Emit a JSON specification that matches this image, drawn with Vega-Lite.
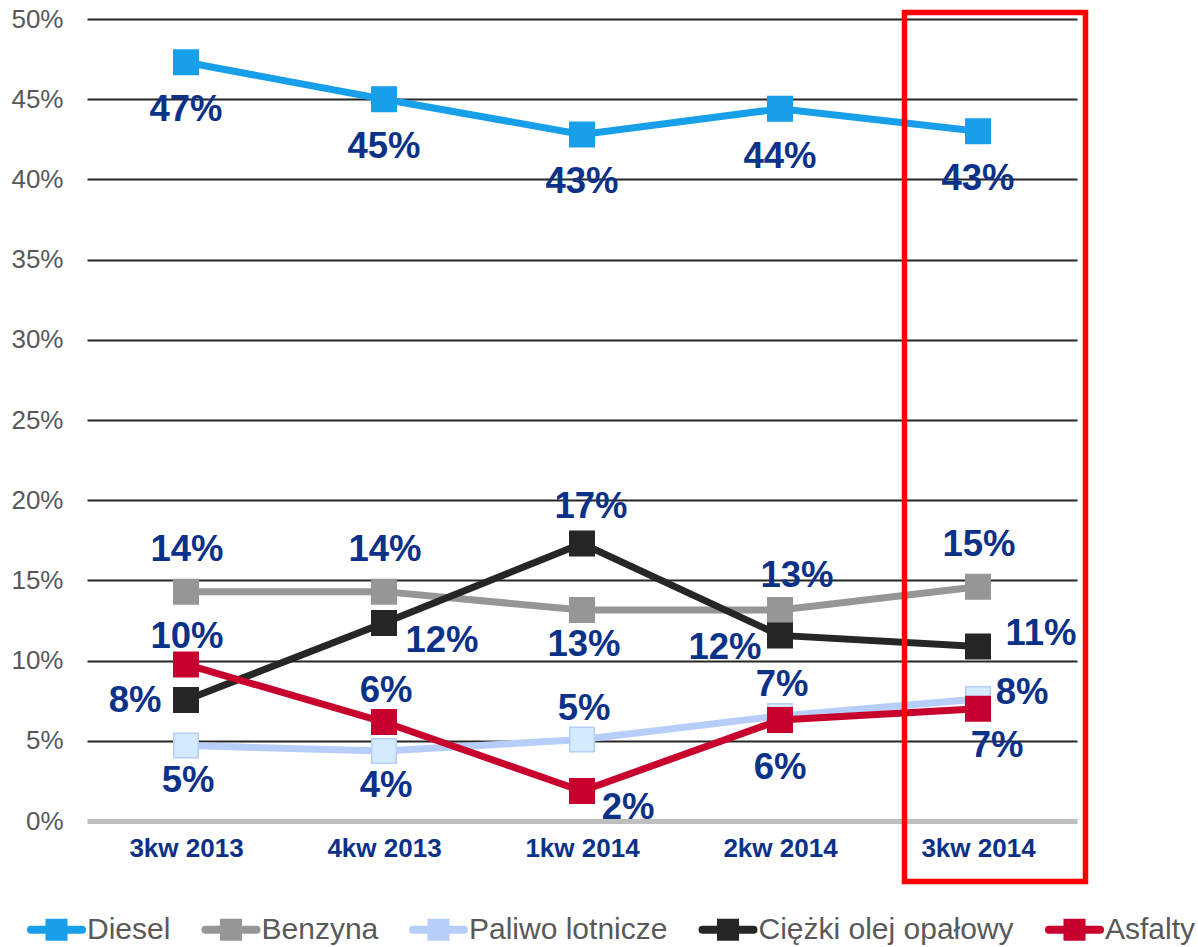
{
  "$schema": "https://vega.github.io/schema/vega-lite/v6.json",
  "width": 990,
  "height": 802,
  "autosize": "none",
  "padding": {"left": 87, "top": 19, "right": 121, "bottom": 126},
  "background": "white",
  "config": {"view": {"stroke": null}, "font": "Liberation Sans"},
  "data": {"values": [
    {"q": "3kw 2013", "s": "Diesel", "v": 0.473},
    {"q": "4kw 2013", "s": "Diesel", "v": 0.450},
    {"q": "1kw 2014", "s": "Diesel", "v": 0.428},
    {"q": "2kw 2014", "s": "Diesel", "v": 0.444},
    {"q": "3kw 2014", "s": "Diesel", "v": 0.430},
    {"q": "3kw 2013", "s": "Benzyna", "v": 0.143},
    {"q": "4kw 2013", "s": "Benzyna", "v": 0.143},
    {"q": "1kw 2014", "s": "Benzyna", "v": 0.1315},
    {"q": "2kw 2014", "s": "Benzyna", "v": 0.1315},
    {"q": "3kw 2014", "s": "Benzyna", "v": 0.146},
    {"q": "3kw 2013", "s": "Paliwo lotnicze", "v": 0.047},
    {"q": "4kw 2013", "s": "Paliwo lotnicze", "v": 0.0436},
    {"q": "1kw 2014", "s": "Paliwo lotnicze", "v": 0.0508},
    {"q": "2kw 2014", "s": "Paliwo lotnicze", "v": 0.0655},
    {"q": "3kw 2014", "s": "Paliwo lotnicze", "v": 0.076},
    {"q": "3kw 2013", "s": "Ciężki olej opałowy", "v": 0.0755},
    {"q": "4kw 2013", "s": "Ciężki olej opałowy", "v": 0.1234},
    {"q": "1kw 2014", "s": "Ciężki olej opałowy", "v": 0.173},
    {"q": "2kw 2014", "s": "Ciężki olej opałowy", "v": 0.1157},
    {"q": "3kw 2014", "s": "Ciężki olej opałowy", "v": 0.1088},
    {"q": "3kw 2013", "s": "Asfalty", "v": 0.0976},
    {"q": "4kw 2013", "s": "Asfalty", "v": 0.0617},
    {"q": "1kw 2014", "s": "Asfalty", "v": 0.0187},
    {"q": "2kw 2014", "s": "Asfalty", "v": 0.063},
    {"q": "3kw 2014", "s": "Asfalty", "v": 0.070}
  ]},
  "encoding": {
    "x": {
      "field": "q", "type": "nominal",
      "sort": ["3kw 2013", "4kw 2013", "1kw 2014", "2kw 2014", "3kw 2014"],
      "scale": {"type": "point", "padding": 0.5},
      "axis": {"title": null, "labelAngle": 0, "labelFont": "Liberation Sans", "labelFontWeight": "bold", "labelFontSize": 26, "labelColor": "#0B3189", "ticks": false, "domain": false, "grid": false, "labelPadding": 14}
    },
    "y": {
      "field": "v", "type": "quantitative",
      "scale": {"domain": [0, 0.5], "nice": false, "zero": true},
      "axis": {
        "title": null,
        "values": [0, 0.05, 0.1, 0.15, 0.2, 0.25, 0.3, 0.35, 0.4, 0.45, 0.5],
        "format": ".0%",
        "labelFont": "Liberation Sans", "labelFontSize": 26, "labelColor": "#595959",
        "ticks": false, "domain": false, "labelPadding": 24,
        "gridColor": {"condition": {"test": "datum.value === 0", "value": "#BFBFBF"}, "value": "#262626"},
        "gridWidth": {"condition": {"test": "datum.value === 0", "value": 5}, "value": 2}
      }
    }
  },
  "layer": [
    {
      "mark": {"type": "line", "strokeWidth": 7},
      "encoding": {
        "color": {
          "field": "s", "type": "nominal",
          "scale": {"domain": ["Diesel", "Benzyna", "Paliwo lotnicze", "Ciężki olej opałowy", "Asfalty"], "range": ["#179FE9", "#969696", "#B7CEFA", "#262626", "#C8002E"]},
          "legend": {
            "orient": "none", "legendX": -60, "legendY": 881, "direction": "horizontal", "title": null,
            "symbolType": "M-1,0H1M-0.275,-0.275H0.275V0.275H-0.275Z",
            "symbolSize": 2601, "symbolStrokeWidth": 8, "symbolOpacity": 1,
            "labelFont": "Liberation Sans", "labelFontSize": 30, "labelColor": "#595959",
            "labelOffset": 1, "columnPadding": 18.5, "labelLimit": 400,
            "encode": {"symbols": {"update": {
              "fill": {"signal": "datum.value === 'Paliwo lotnicze' ? '#D4EBFD' : scale('color', datum.value)"},
              "strokeCap": {"value": "round"}
            }}}
          }
        }
      }
    },
    {
      "mark": {"type": "point", "shape": "square", "size": 600, "filled": true, "strokeWidth": 1.5, "opacity": 1},
      "encoding": {
        "fill": {"field": "s", "type": "nominal", "scale": {"domain": ["Diesel", "Benzyna", "Paliwo lotnicze", "Ciężki olej opałowy", "Asfalty"], "range": ["#179FE9", "#969696", "#D4EBFD", "#262626", "#C8002E"]}, "legend": null},
        "stroke": {"field": "s", "type": "nominal", "scale": {"domain": ["Diesel", "Benzyna", "Paliwo lotnicze", "Ciężki olej opałowy", "Asfalty"], "range": ["#179FE9", "#969696", "#B7CEFA", "#262626", "#C8002E"]}, "legend": null}
      }
    },
    {
      "transform": [{"filter": "datum.s === 'Diesel' || indexof(['Asfalty|2kw 2014'], datum.s + '|' + datum.q) >= 0"}],
      "mark": {"type": "text", "font": "Liberation Sans", "fontWeight": "bold", "fontSize": 36.5, "color": "#0B3189", "baseline": "middle", "dx": 0, "dy": 48},
      "encoding": {"text": {"field": "v", "type": "quantitative", "format": ".0%"}}
    },
    {
      "transform": [{"filter": "indexof(['Benzyna|1kw 2014', 'Paliwo lotnicze|3kw 2013', 'Paliwo lotnicze|4kw 2013'], datum.s + '|' + datum.q) >= 0"}],
      "mark": {"type": "text", "font": "Liberation Sans", "fontWeight": "bold", "fontSize": 36.5, "color": "#0B3189", "baseline": "middle", "dx": 2, "dy": 35},
      "encoding": {"text": {"field": "v", "type": "quantitative", "format": ".0%"}}
    },
    {
      "transform": [{"filter": "indexof(['Benzyna|3kw 2013', 'Benzyna|4kw 2013', 'Benzyna|3kw 2014'], datum.s + '|' + datum.q) >= 0"}],
      "mark": {"type": "text", "font": "Liberation Sans", "fontWeight": "bold", "fontSize": 36.5, "color": "#0B3189", "baseline": "middle", "dx": 1, "dy": -42},
      "encoding": {"text": {"field": "v", "type": "quantitative", "format": ".0%"}}
    },
    {
      "transform": [{"filter": "indexof(['Ciężki olej opałowy|1kw 2014'], datum.s + '|' + datum.q) >= 0"}],
      "mark": {"type": "text", "font": "Liberation Sans", "fontWeight": "bold", "fontSize": 36.5, "color": "#0B3189", "baseline": "middle", "dx": 9, "dy": -37},
      "encoding": {"text": {"field": "v", "type": "quantitative", "format": ".0%"}}
    },
    {
      "transform": [{"filter": "indexof(['Benzyna|2kw 2014'], datum.s + '|' + datum.q) >= 0"}],
      "mark": {"type": "text", "font": "Liberation Sans", "fontWeight": "bold", "fontSize": 36.5, "color": "#0B3189", "baseline": "middle", "dx": 17, "dy": -34},
      "encoding": {"text": {"field": "v", "type": "quantitative", "format": ".0%"}}
    },
    {
      "transform": [{"filter": "indexof(['Paliwo lotnicze|1kw 2014', 'Paliwo lotnicze|2kw 2014', 'Asfalty|4kw 2013'], datum.s + '|' + datum.q) >= 0"}],
      "mark": {"type": "text", "font": "Liberation Sans", "fontWeight": "bold", "fontSize": 36.5, "color": "#0B3189", "baseline": "middle", "dx": 2, "dy": -31},
      "encoding": {"text": {"field": "v", "type": "quantitative", "format": ".0%"}}
    },
    {
      "transform": [{"filter": "indexof(['Asfalty|3kw 2013'], datum.s + '|' + datum.q) >= 0"}],
      "mark": {"type": "text", "font": "Liberation Sans", "fontWeight": "bold", "fontSize": 36.5, "color": "#0B3189", "baseline": "middle", "dx": 1, "dy": -27},
      "encoding": {"text": {"field": "v", "type": "quantitative", "format": ".0%"}}
    },
    {
      "transform": [{"filter": "indexof(['Ciężki olej opałowy|3kw 2013'], datum.s + '|' + datum.q) >= 0"}],
      "mark": {"type": "text", "font": "Liberation Sans", "fontWeight": "bold", "fontSize": 36.5, "color": "#0B3189", "baseline": "middle", "dx": -51, "dy": 1},
      "encoding": {"text": {"field": "v", "type": "quantitative", "format": ".0%"}}
    },
    {
      "transform": [{"filter": "indexof(['Ciężki olej opałowy|2kw 2014'], datum.s + '|' + datum.q) >= 0"}],
      "mark": {"type": "text", "font": "Liberation Sans", "fontWeight": "bold", "fontSize": 36.5, "color": "#0B3189", "baseline": "middle", "dx": -55, "dy": 13},
      "encoding": {"text": {"field": "v", "type": "quantitative", "format": ".0%"}}
    },
    {
      "transform": [{"filter": "indexof(['Ciężki olej opałowy|4kw 2013'], datum.s + '|' + datum.q) >= 0"}],
      "mark": {"type": "text", "font": "Liberation Sans", "fontWeight": "bold", "fontSize": 36.5, "color": "#0B3189", "baseline": "middle", "dx": 58, "dy": 18},
      "encoding": {"text": {"field": "v", "type": "quantitative", "format": ".0%"}}
    },
    {
      "transform": [{"filter": "indexof(['Ciężki olej opałowy|3kw 2014'], datum.s + '|' + datum.q) >= 0"}],
      "mark": {"type": "text", "font": "Liberation Sans", "fontWeight": "bold", "fontSize": 36.5, "color": "#0B3189", "baseline": "middle", "dx": 63, "dy": -12},
      "encoding": {"text": {"field": "v", "type": "quantitative", "format": ".0%"}}
    },
    {
      "transform": [{"filter": "indexof(['Paliwo lotnicze|3kw 2014'], datum.s + '|' + datum.q) >= 0"}],
      "mark": {"type": "text", "font": "Liberation Sans", "fontWeight": "bold", "fontSize": 36.5, "color": "#0B3189", "baseline": "middle", "dx": 44, "dy": -6},
      "encoding": {"text": {"field": "v", "type": "quantitative", "format": ".0%"}}
    },
    {
      "transform": [{"filter": "indexof(['Asfalty|1kw 2014'], datum.s + '|' + datum.q) >= 0"}],
      "mark": {"type": "text", "font": "Liberation Sans", "fontWeight": "bold", "fontSize": 36.5, "color": "#0B3189", "baseline": "middle", "dx": 46, "dy": 17},
      "encoding": {"text": {"field": "v", "type": "quantitative", "format": ".0%"}}
    },
    {
      "transform": [{"filter": "indexof(['Asfalty|3kw 2014'], datum.s + '|' + datum.q) >= 0"}],
      "mark": {"type": "text", "font": "Liberation Sans", "fontWeight": "bold", "fontSize": 36.5, "color": "#0B3189", "baseline": "middle", "dx": 19, "dy": 37},
      "encoding": {"text": {"field": "v", "type": "quantitative", "format": ".0%"}}
    },
    {
      "transform": [{"filter": "datum.s === 'Diesel' && datum.q === '3kw 2014'"}],
      "mark": {"type": "point", "shape": "M-0.1692,-1H0.2474V1H-0.1692Z", "size": 755161, "filled": false, "stroke": "#FF0000", "strokeWidth": 5.5, "opacity": 1, "strokeOpacity": 1},
      "encoding": {
        "y": {"datum": 0.2332, "type": "quantitative"}
      }
    }
  ]
}
